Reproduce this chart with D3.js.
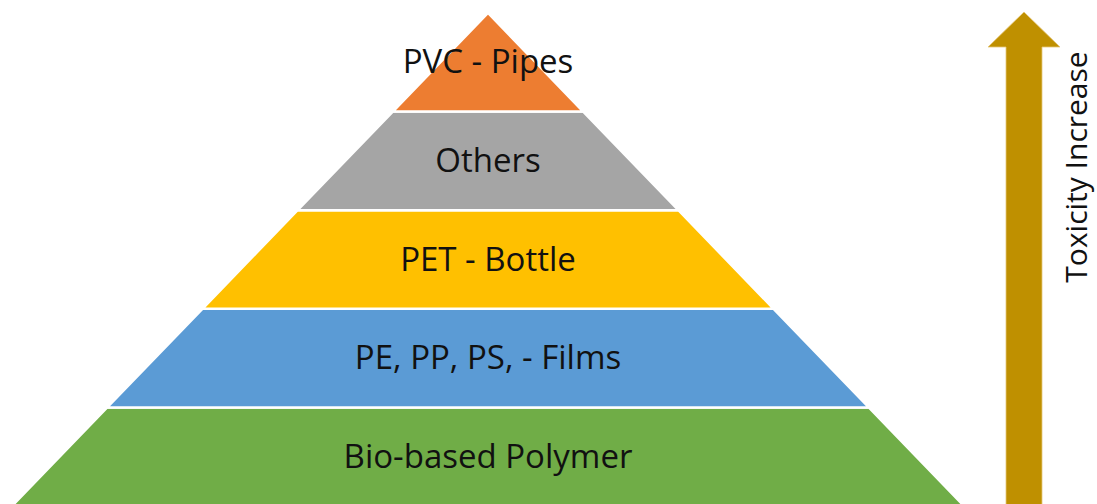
<!DOCTYPE html>
<html>
<head>
<meta charset="utf-8">
<script src="https://cdn.jsdelivr.net/npm/d3@7"></script>
<style>
  body { margin: 0; background: #fff; }
  svg { display: block; }
  text { font-family: "Open Sans", "Noto Sans", sans-serif; }
</style>
</head>
<body>
<svg id="chart"></svg>
<script>
// pyramid levels, bottom to top
const levels = ["Bio-based Polymer", "PE, PP, PS, - Films", "PET - Bottle", "Others", "PVC - Pipes"];
const levelColors = ["#70AD47", "#5B9BD5", "#FFC000", "#A5A5A5", "#ED7D31"];
const arrowLabel = "Toxicity Increase";
const arrowColor = "#BF9000";

var width = 1097, height = 504;
var cx = 488;           // pyramid centre line
var halfBase = 476;     // half width at the base

var svg = d3.select("#chart").attr("width", width).attr("height", height);

// level index -> vertical position (base slightly below the frame)
var yScale = d3.scaleLinear()
  .domain([0, levels.length])
  .range([506, 13]);

// vertical position -> half width of the triangle
var wScale = d3.scaleLinear()
  .domain([yScale(levels.length), yScale(0)])
  .range([0, halfBase]);

var trap = function(i) {
  var yb = yScale(i), yt = yScale(i + 1);
  var pts = [
    [cx - wScale(yb), yb], [cx + wScale(yb), yb],
    [cx + wScale(yt), yt], [cx - wScale(yt), yt]
  ];
  return "M" + pts.map(p => p.join(",")).join("L") + "Z";
};

var g = svg.append("g").attr("class", "pyramid");

g.selectAll("path.level")
  .data(levels)
  .join("path")
    .attr("class", "level")
    .attr("d", (d, i) => trap(i))
    .attr("fill", (d, i) => levelColors[i])
    .attr("stroke", "#fff")
    .attr("stroke-width", 2.5)
    .attr("stroke-linejoin", "miter");

g.selectAll("text.label")
  .data(levels)
  .join("text")
    .attr("class", "label")
    .attr("x", cx)
    .attr("y", (d, i) => (yScale(i) + yScale(i + 1)) / 2 + 11)
    .attr("text-anchor", "middle")
    .style("font-size", "33px")
    .style("fill", "#111")
    .text(d => d);

// ---- arrow on the right
var ax = 1024, shaftHalf = 18, headHalf = 36, headH = 35;
var arrowTop = yScale(levels.length) - 1, arrowBot = height + 6;
var arrowPts = [
  [ax, arrowTop], [ax + headHalf, arrowTop + headH], [ax + shaftHalf, arrowTop + headH],
  [ax + shaftHalf, arrowBot], [ax - shaftHalf, arrowBot], [ax - shaftHalf, arrowTop + headH],
  [ax - headHalf, arrowTop + headH]
];
svg.append("path")
  .attr("d", d3.line()(arrowPts) + "Z")
  .attr("fill", arrowColor)
  .attr("stroke", "#e6c77a")
  .attr("stroke-width", 0.8);

svg.append("text")
  .attr("transform", "translate(1087,167) rotate(-90)")
  .attr("text-anchor", "middle")
  .style("font-size", "30px")
  .style("fill", "#111")
  .text(arrowLabel);
</script>
</body>
</html>
